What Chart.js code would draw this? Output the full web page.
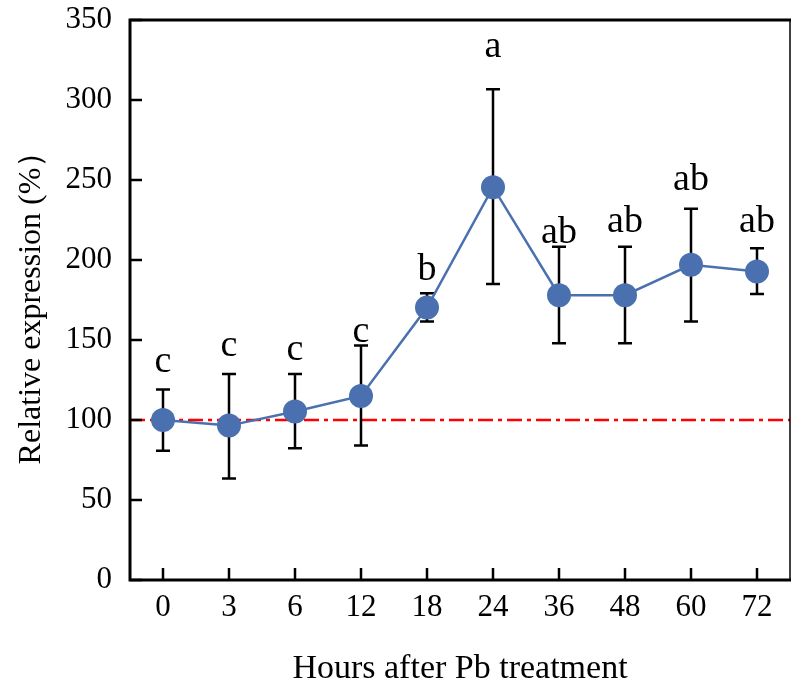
<!DOCTYPE html>
<html>
<head>
<meta charset="utf-8">
<script src="https://cdn.jsdelivr.net/npm/chart.js@4/dist/chart.umd.min.js"></script>
<style>
  html, body { margin: 0; padding: 0; background: #fff; overflow: hidden; }
  canvas { display: block; }
</style>
</head>
<body>
<canvas id="chart-expr" width="802" height="693"></canvas>
<script>
// 数据：Pb 处理后各时间点的相对表达量
const hours = ['0', '3', '6', '12', '18', '24', '36', '48', '60', '72'];
const means = [100, 96.5, 105.3, 115, 170.3, 245.5, 178, 178, 197, 192.8];
const upper = [119, 128.8, 128.8, 146.5, 179.2, 306.7, 208.3, 208.3, 232, 207.3];
const lower = [80.8, 63.5, 82.3, 84, 161.5, 185, 148, 148, 161.5, 178.8];
const letters = ['c', 'c', 'c', 'c', 'b', 'a', 'ab', 'ab', 'ab', 'ab'];
const letterY = [136, 146, 144, 155, 194, 333, 217, 224, 250, 224];
const refValue = 100;

const SERIF = '"Liberation Serif", "DejaVu Serif", serif';
const BLUE = '#4a70b0';
const AREA = { left: 130, top: 20, right: 800, bottom: 580 };

const decorPlugin = {
  id: 'decor',
  beforeDatasetsDraw(chart) {
    const { ctx, chartArea } = chart;
    const x = chart.scales.x;
    const y = chart.scales.y;
    ctx.save();
    // 参考线 100%
    const yRef = y.getPixelForValue(refValue);
    ctx.strokeStyle = '#ff0000';
    ctx.lineWidth = 2.5;
    ctx.setLineDash([15, 5, 4, 5]);
    ctx.beginPath();
    ctx.moveTo(chartArea.left, yRef);
    ctx.lineTo(chartArea.right, yRef);
    ctx.stroke();
    ctx.setLineDash([]);
    // 误差线
    ctx.strokeStyle = '#000';
    ctx.lineWidth = 2.5;
    hours.forEach((h, i) => {
      const px = x.getPixelForValue(i);
      const top = y.getPixelForValue(upper[i]);
      const bot = y.getPixelForValue(lower[i]);
      ctx.beginPath();
      ctx.moveTo(px, top);
      ctx.lineTo(px, bot);
      ctx.moveTo(px - 7, top);
      ctx.lineTo(px + 7, top);
      ctx.moveTo(px - 7, bot);
      ctx.lineTo(px + 7, bot);
      ctx.stroke();
    });
    ctx.restore();
  },
  afterDatasetsDraw(chart) {
    const { ctx, chartArea } = chart;
    const x = chart.scales.x;
    const y = chart.scales.y;
    ctx.save();
    // 显著性字母
    ctx.fillStyle = '#000';
    ctx.font = '38px ' + SERIF;
    ctx.textAlign = 'center';
    ctx.textBaseline = 'middle';
    letters.forEach((t, i) => {
      ctx.fillText(t, x.getPixelForValue(i), y.getPixelForValue(letterY[i]));
    });
    // 坐标框与刻度
    ctx.strokeStyle = '#000';
    ctx.lineWidth = 1.5;
    ctx.beginPath();
    ctx.moveTo(chartArea.right, chartArea.top);
    ctx.lineTo(chartArea.right, chartArea.bottom);
    ctx.stroke();
    ctx.lineWidth = 3;
    ctx.beginPath();
    ctx.moveTo(chartArea.right + 1, chartArea.top);
    ctx.lineTo(chartArea.left, chartArea.top);
    ctx.lineTo(chartArea.left, chartArea.bottom);
    ctx.lineTo(chartArea.right + 1, chartArea.bottom);
    ctx.stroke();
    ctx.lineWidth = 2.5;
    ctx.beginPath();
    y.ticks.forEach((t) => {
      const py = y.getPixelForValue(t.value);
      ctx.moveTo(chartArea.left, py);
      ctx.lineTo(chartArea.left + 12, py);
    });
    hours.forEach((h, i) => {
      const px = x.getPixelForValue(i);
      ctx.moveTo(px, chartArea.bottom);
      ctx.lineTo(px, chartArea.bottom - 12);
    });
    ctx.stroke();
    ctx.restore();
  },
};

const canvas = document.getElementById('chart-expr');
const chart = new Chart(canvas, {
  type: 'line',
  data: {
    labels: hours,
    datasets: [
      {
        label: 'Relative expression',
        data: means,
        borderColor: BLUE,
        backgroundColor: BLUE,
        borderWidth: 2.5,
        pointRadius: 12,
        pointHoverRadius: 12,
        pointBorderWidth: 0,
        tension: 0,
      },
    ],
  },
  options: {
    responsive: false,
    animation: false,
    layout: { padding: { left: 0, top: 20, right: 2, bottom: 0 } },
    plugins: {
      legend: { display: false },
      tooltip: { enabled: false },
    },
    scales: {
      x: {
        offset: true,
        grid: { display: false, drawTicks: false },
        border: { display: false },
        ticks: {
          color: '#000',
          padding: 9,
          maxRotation: 0,
          font: { family: SERIF, size: 31 },
        },
        title: {
          display: true,
          text: 'Hours after Pb treatment',
          color: '#000',
          padding: { top: 0, bottom: 4 },
          font: { family: SERIF, size: 34 },
        },
        afterFit(scale) {
          scale.height = 113;
          scale.paddingLeft = 0;
          scale.paddingRight = 0;
        },
      },
      y: {
        min: 0,
        max: 350,
        grid: { display: false, drawTicks: false },
        border: { display: false },
        ticks: {
          stepSize: 25,
          color: '#000',
          padding: 18,
          font: { family: SERIF, size: 31 },
          callback: (v) => (v % 50 === 0 ? String(v) : ''),
        },
        title: {
          display: true,
          text: 'Relative expression (%）',
          color: '#000',
          padding: { top: 12, bottom: 0 },
          font: { family: SERIF, size: 32 },
        },
        afterFit(scale) {
          scale.width = 130;
          scale.paddingTop = 0;
          scale.paddingBottom = 0;
        },
      },
    },
  },
  plugins: [decorPlugin],
});

// 校正绘图区边界，使其与原图一致
const pad = chart.options.layout.padding;
pad.right += chart.chartArea.right - AREA.right;
pad.top += AREA.top - chart.chartArea.top;
chart.update();
</script>
</body>
</html>
